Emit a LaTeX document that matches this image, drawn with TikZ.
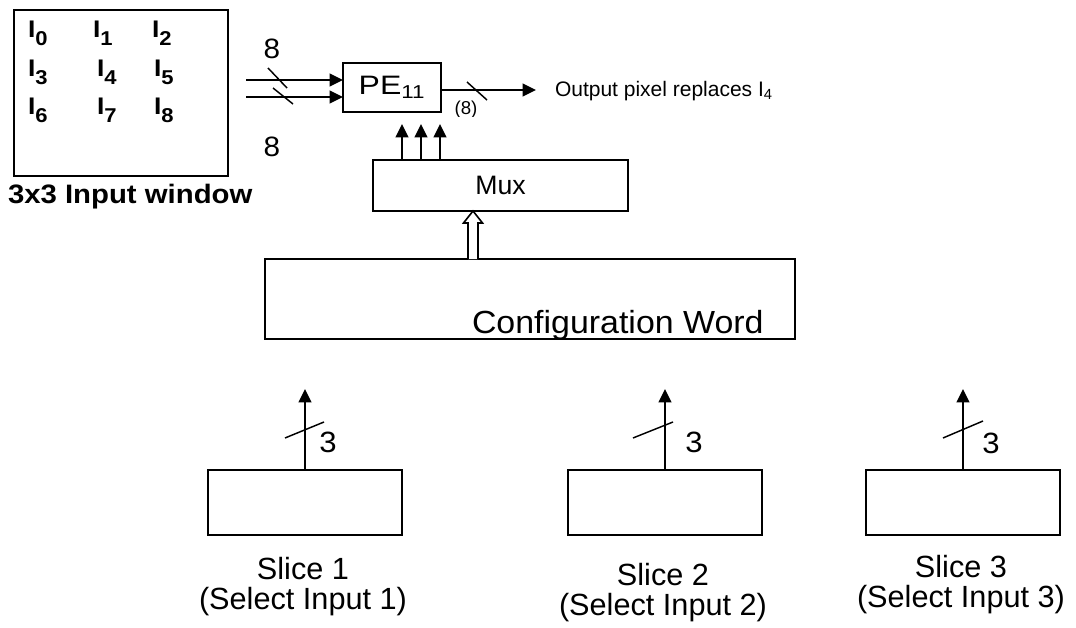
\documentclass[tikz,border=0pt]{standalone}
\usepackage{fontspec}
\setmainfont{Liberation Sans}
\newfontfamily\sanswide{Liberation Sans}[FakeStretch=1.2]
\newfontfamily\sansmid{Liberation Sans}[FakeStretch=1.06]
\newfontfamily\boldwide{Liberation Sans}[FakeStretch=1.1]
\usetikzlibrary{arrows.meta,calc}
\newcommand\fsz[1]{\fontsize{#1}{#1}\selectfont}
\newcommand\bfsz[1]{\boldwide\bfseries\fontsize{#1}{#1}\selectfont}
% pixel label: bold I with a large, lowered index
\newcommand\pixlab[1]{I\raisebox{-6pt}{\fontsize{15}{15}\selectfont #1}}

\begin{document}
\begin{tikzpicture}[x=0.75pt,y=-0.75pt,
  every node/.style={inner sep=0pt, outer sep=0pt},
  blk/.style={draw, line width=1.35pt, rectangle},
  arr/.style={line width=1.35pt, -{Triangle[length=10pt,width=9.5pt]}},
  slash/.style={line width=1.1pt},
  lbl/.style={font=\fontsize{23}{22.5}\selectfont, align=center}]
\useasboundingbox (0,0) rectangle (1076,628);

% ---- input window ----
\node[blk, minimum width=160.5pt, minimum height=124.5pt] (win) at (121,93) {};
\foreach \x/\y/\i in {28/37/0, 93/37/1, 152/37/2,
                      28/76/3, 97/76/4, 154/76/5,
                      28/114/6, 97/114/7, 154/114/8}
  \node[anchor=base west, font=\bfsz{18}] (pix\i) at (\x,\y) {\pixlab{\i}};
\node[anchor=base west, font=\bfsz{20}] (wincap) at (8,203) {3x3 Input window};

% ---- processing element ----
\node[blk, minimum width=73.5pt, minimum height=36.75pt] (pe) at (392,87.5) {};
\node[font=\sanswide\fsz{20}] (pelbl) at (pe) {PE\textsubscript{11}};

% 8-bit inputs
\coordinate (in1) at (246,80);
\coordinate (in2) at (246,97);
\draw[arr] (in1) -- (pe.west |- in1);
\draw[arr] (in2) -- (pe.west |- in2);
\draw[slash] (268,68) -- (287,88);
\draw[slash] (273,88) -- (293,104);
\node[font=\sansmid\fsz{21}] (w1) at (272,49) {8};
\node[font=\sansmid\fsz{21}] (w2) at (272,147) {8};

% output
\coordinate (out) at (536,90);
\draw[arr] (pe.east |- out) -- (out);
\draw[slash] (467,82) -- (487,100);
\begin{scope}
  \clip (440,95) rectangle (500,116);
  \node[font=\fsz{14}] (ow) at (466,110) {(8)};
\end{scope}
\node[anchor=west, font=\fsz{15.75}] (outlbl) at (555,91) {Output pixel replaces I\textsubscript{4}};

% ---- multiplexer ----
\node[blk, minimum width=191.25pt, minimum height=38.25pt] (mux) at (500.5,185.5) {};
\node[font=\fsz{20}] (muxlbl) at (mux) {Mux};
\foreach \x [count=\k] in {402,421,440} {
  \coordinate (sel\k) at (\x,124);
  \draw[arr] (mux.north -| sel\k) -- (sel\k);
}

% ---- configuration word ----
\node[blk, minimum width=397.5pt, minimum height=60pt] (cfg) at (530,299) {};
\begin{scope}
  \clip (cfg.south west) rectangle (cfg.north east);
  \node[anchor=base west, font=\sansmid\fsz{24}] (cfglbl) at (472,333) {Configuration Word};
\end{scope}
% wide bus from the configuration word to the mux
\coordinate (bus) at (cfg.north -| 473,0);
\draw[line width=1.2pt, fill=white]
  ($(bus)+(-5,0)$) -- ($(bus)+(-5,-36)$) -- ($(bus)+(-9.5,-36)$) --
  ($(bus)+(0,-48)$) -- ($(bus)+(9.5,-36)$) -- ($(bus)+(5,-36)$) --
  ($(bus)+(5,0)$);

% ---- slices ----
\foreach \cx/\ly/\k in {305/587/1, 665/593/2, 963/585/3} {
  \node[blk, minimum width=145.5pt, minimum height=48.75pt] (slice\k) at (\cx,502.5) {};
  \coordinate (top\k) at (\cx,389);
  \draw[arr] (slice\k.north) -- (top\k);
  \node[lbl] (sn\k) at (\cx-2,\ly) {Slice \k\\(Select Input \k)};
}
\draw[slash] (285,438) -- (324,422);
\draw[slash] (633,438) -- (673,422);
\draw[slash] (943,438) -- (983,421);
\node[font=\sansmid\fsz{22}] (b1) at (328,442) {3};
\node[font=\sansmid\fsz{22}] (b2) at (694,442) {3};
\node[font=\sansmid\fsz{22}] (b3) at (991,443) {3};
\end{tikzpicture}
\end{document}
